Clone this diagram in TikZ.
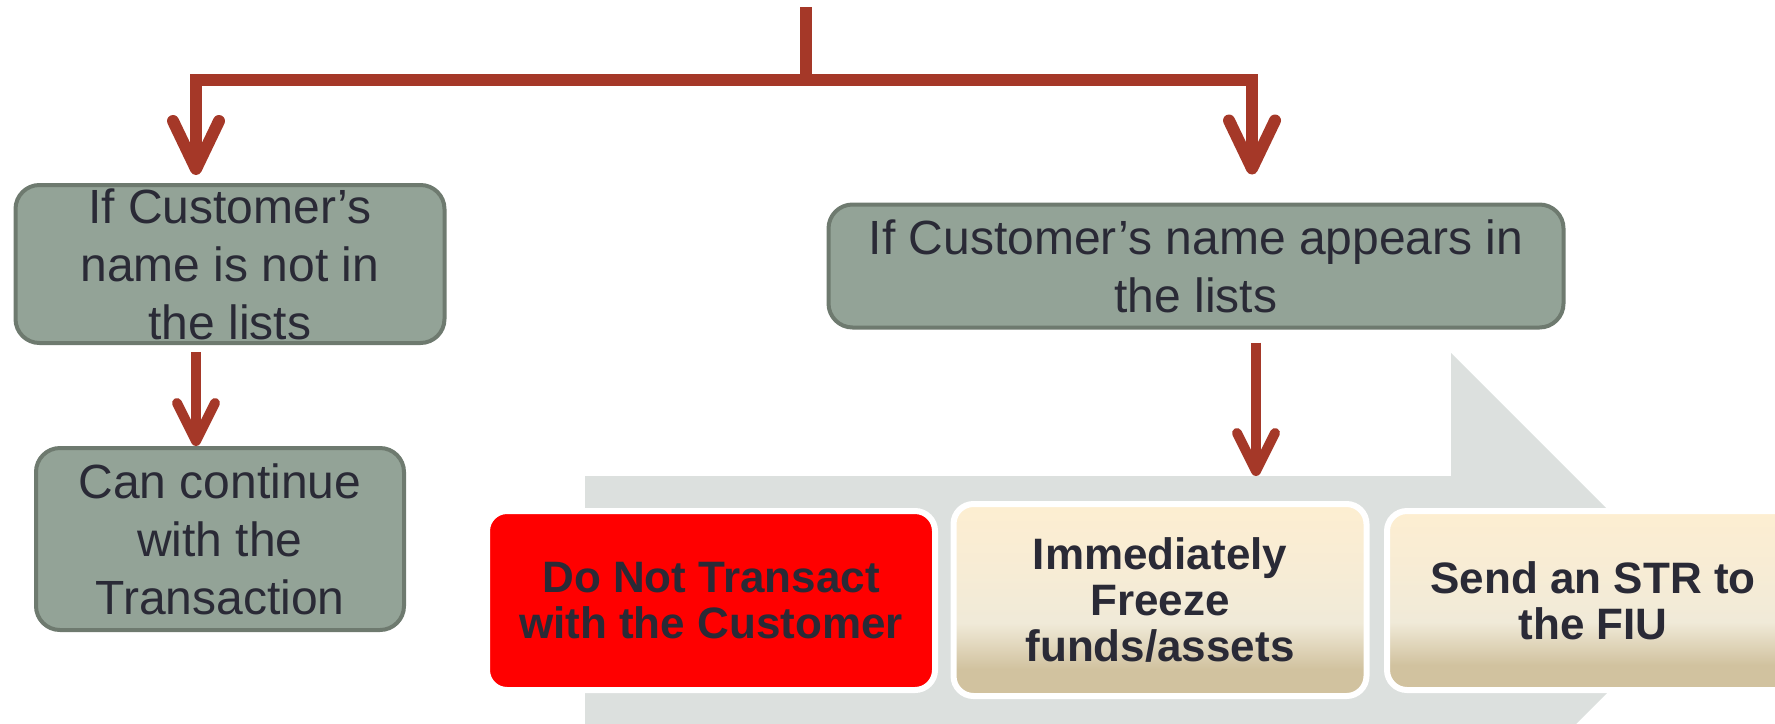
\documentclass[tikz,border=0pt]{standalone}
\usepackage{fontspec}
\setmainfont{Liberation Sans}
\usetikzlibrary{arrows.meta}

\definecolor{boxgreen}{HTML}{93A397}
\definecolor{boxedge}{HTML}{6E7A6F}
\definecolor{flowred}{HTML}{A53828}
\definecolor{inkdark}{HTML}{2A2A36}
\definecolor{bandgrey}{HTML}{DCE0DE}
\definecolor{creamtop}{HTML}{FDEED1}
\definecolor{creamhigh}{HTML}{F7ECD5}
\definecolor{creammid}{HTML}{F0EAD8}
\definecolor{creamlow}{HTML}{D1C29F}

% cream boxes: light on top, tan at the bottom
\pgfdeclareverticalshading{creamfade}{100bp}{color(0bp)=(creamlow); color(32bp)=(creamlow); color(44bp)=(creammid); color(58bp)=(creamhigh); color(75bp)=(creamtop); color(100bp)=(creamtop)}

\begin{document}
\begin{tikzpicture}[x=0.5pt,y=-0.5pt,
  check/.style={draw=boxedge, fill=boxgreen, line width=2pt, rounded corners=12pt,
    text=inkdark, align=center, inner sep=0pt, font=\fontsize{24}{29}\selectfont},
  action/.style={draw=white, line width=3pt, rounded corners=10pt,
    text=inkdark, align=center, inner sep=0pt, font=\bfseries\fontsize{22}{23}\selectfont},
  bigflow/.style={draw=flowred, line width=6pt, -{Straight Barb[length=24pt,width=23pt,round]}},
  flow/.style={draw=flowred, line width=5pt, -{Straight Barb[length=19pt,width=19pt,round]}}]

\useasboundingbox (0,0) rectangle (1775,723);
\clip (0,0) rectangle (1775,723);

% grey arrow behind the actions
\fill[bandgrey] (585,476) -- (1451,476) -- (1451,353) -- (1699,601) -- (1451,849)
  -- (1451,726) -- (585,726) -- cycle;
\coordinate (bandtop) at (585,476);

% checks
\node[check, minimum width=214.5pt, minimum height=79pt] (notlisted) at (230,264)
  {If Customer’s\\name is not in\\the lists};
\node[check, minimum width=367.5pt, minimum height=61.5pt] (listed) at (1196,266)
  {If Customer’s name appears in\\the lists};
\node[check, minimum width=184pt, minimum height=91pt] (carryon) at (220,539)
  {Can continue\\with the\\Transaction};

% actions
\node[action, fill=red, minimum width=224pt, minimum height=89.5pt] (notransact) at (711,600.5)
  {Do Not Transact\\with the Customer};
\node[action, shade, shading=creamfade, minimum width=206.5pt, minimum height=96pt] (freeze) at (1160,600)
  {Immediately\\Freeze\\funds/assets};
\node[action, shade, shading=creamfade, minimum width=206pt, minimum height=89.5pt] (report) at (1593,600.5)
  {Send an STR to\\the FIU};

% connectors
\coordinate (title) at (806,7);
\coordinate (fork) at (806,80);
\draw[flowred, line width=6pt] (title) -- (fork);
\draw[bigflow] (fork) -| ([xshift=-17pt,yshift=4pt]notlisted.north);
\draw[bigflow] (fork) -| ([xshift=28pt,yshift=14pt]listed.north);

\draw[flow] ([xshift=-17pt,yshift=-3.5pt]notlisted.south) -- ([xshift=-17pt]notlisted.south |- carryon.north);
\draw[flow] ([xshift=30pt,yshift=-6.5pt]listed.south) -- ([xshift=30pt]listed.south |- bandtop);

\end{tikzpicture}
\end{document}
